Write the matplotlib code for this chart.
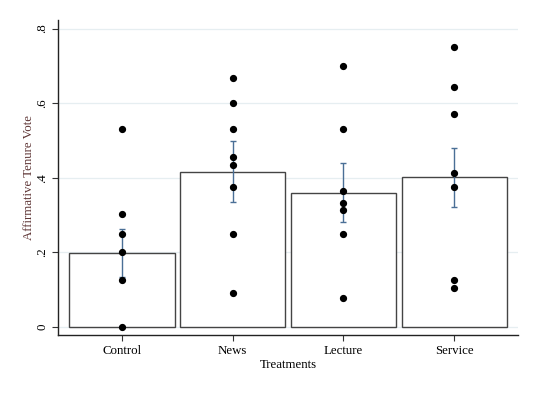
import matplotlib
matplotlib.use("Agg")
import matplotlib.pyplot as plt
import numpy as np

categories = ["Control", "News", "Lecture", "Service"]
bar_means = [0.198, 0.416, 0.360, 0.403]
ci_low = [0.133, 0.336, 0.282, 0.323]
ci_high = [0.263, 0.499, 0.439, 0.481]
points_control = [0.53, 0.304, 0.25, 0.2, 0.125, 0.0]
points_news = [0.667, 0.60, 0.53, 0.455, 0.435, 0.375, 0.25, 0.09]
points_lecture = [0.70, 0.53, 0.364, 0.333, 0.313, 0.25, 0.077]
points_service = [0.75, 0.643, 0.571, 0.412, 0.375, 0.125, 0.105]
yticks = [0, 0.2, 0.4, 0.6, 0.8]
ytick_labels = ["0", ".2", ".4", ".6", ".8"]

plt.rcParams['font.family'] = ['Liberation Serif', 'DejaVu Serif']

fig = plt.figure(figsize=(5.38, 3.94), dpi=100)
ax = fig.add_axes([58/538, (394-335)/394, (518-58)/538, (335-20)/394])

x = np.arange(len(categories))
for yv in yticks:
    ax.axhline(yv, color='#e6eef1', lw=0.9, zorder=0)

ax.bar(x, bar_means, width=0.95, facecolor='white', edgecolor='#444444', lw=1.0, zorder=2)
means = np.array(bar_means)
yerr = np.vstack([means - np.array(ci_low), np.array(ci_high) - means])
ax.errorbar(x, means, yerr=yerr, fmt='none', ecolor='#4a6f96', elinewidth=1.0,
            capsize=2.5, capthick=1.0, zorder=3)

for xi, pts in zip(x, [points_control, points_news, points_lecture, points_service]):
    ax.plot([xi]*len(pts), pts, 'o', color='black', ms=4.2, zorder=4, clip_on=False)

ax.set_xlim(-0.578, 3.577)
ax.set_ylim(-0.0214, 0.823)
ax.set_xticks(x)
ax.set_xticklabels(categories, fontsize=9.3)
ax.set_yticks(yticks)
ax.set_yticklabels(ytick_labels, fontsize=9.3, rotation=90, va='center')
ax.tick_params(axis='both', direction='out', length=4, width=0.8, color='#333333', pad=3)
for s in ['top', 'right']:
    ax.spines[s].set_visible(False)
for s in ['left', 'bottom']:
    ax.spines[s].set_color('#222222')
    ax.spines[s].set_linewidth(1.0)
ax.set_xlabel("Treatments", fontsize=9.3, labelpad=2)
ax.set_ylabel("Affirmative Tenure Vote", fontsize=9.3, color='#5e3535', labelpad=1)

fig.savefig("out.png", dpi=100)
